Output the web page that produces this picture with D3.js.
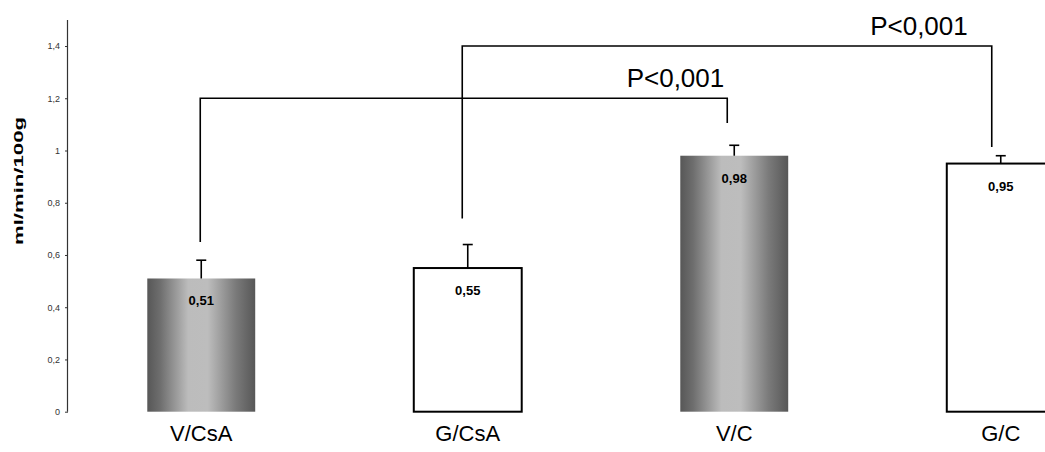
<!DOCTYPE html>
<html>
<head>
<meta charset="utf-8">
<script src="https://cdn.jsdelivr.net/npm/d3@7"></script>
<style>
  html, body { margin: 0; padding: 0; background: #fff; }
  svg { display: block; font-family: "Liberation Sans", Arial, sans-serif; }
</style>
</head>
<body>
<svg id="chart" width="1045" height="452"></svg>
<script>
// Blood flow per group (ml/min/100g)
const categories = ["V/CsA", "G/CsA", "V/C", "G/C"];
const means      = [0.51, 0.55, 0.98, 0.95];
const errorTops  = [0.58, 0.64, 1.02, 0.98];
const barStyle   = ["gradient", "outline", "gradient", "outline"];
const valueLabels = ["0,51", "0,55", "0,98", "0,95"];
const yTicks      = [0, 0.2, 0.4, 0.6, 0.8, 1, 1.2, 1.4];
const yTickLabels = ["0", "0,2", "0,4", "0,6", "0,8", "1", "1,2", "1,4"];

// Significance brackets: which groups, level, and where each leg stops
const bracketPairs  = [["V/CsA", "V/C"], ["G/CsA", "G/C"]];
const bracketLevels = [1.2, 1.4];
const bracketLegEnds = [[0.65, 1.105], [0.74, 1.013]];
const bracketLabels = ["P<0,001", "P<0,001"];

const svg = d3.select("#chart");

const plotLeft = 68, bandStep = 266.5;
const x = d3.scaleBand()
  .domain(categories)
  .range([plotLeft, plotLeft + bandStep * categories.length])
  .padding(0);
const barW = bandStep * 0.405;

const y = d3.scaleLinear().domain([0, 1.5]).range([411.7, 19.9]);

// Cylinder-like shading for the V groups
const defs = svg.append("defs");
const grad = defs.append("linearGradient")
  .attr("id", "barShade").attr("x1", "0%").attr("x2", "100%").attr("y1", "0%").attr("y2", "0%");
[[0, "#575757"], [0.12, "#6e6e6e"], [0.38, "#bcbcbc"], [0.56, "#bdbdbd"], [0.82, "#7a7a7a"], [1, "#575757"]]
  .forEach(([o, c]) => grad.append("stop").attr("offset", o).attr("stop-color", c));

// Y axis
const yAxis = d3.axisLeft(y)
  .tickValues(yTicks)
  .tickFormat((d, i) => yTickLabels[i])
  .tickSize(3)
  .tickPadding(5);
const ga = svg.append("g").attr("transform", `translate(${plotLeft},0)`).call(yAxis);
ga.select(".domain").attr("d", `M-0.5,${y(0)}V${y(1.5)}`).attr("stroke", "#333").attr("stroke-width", 1.2);
ga.selectAll(".tick line").attr("stroke", "#333");
ga.selectAll(".tick text").attr("font-size", 9).attr("fill", "#333")
  .attr("font-family", "'Liberation Sans', Arial, sans-serif");

// Axis title, stretched along the axis
svg.append("text")
  .attr("transform", `translate(23,181) rotate(-90)`)
  .attr("text-anchor", "middle")
  .attr("font-size", 13).attr("font-weight", "bold")
  .attr("textLength", 128).attr("lengthAdjust", "spacingAndGlyphs")
  .text("ml/min/100g");

const cx = c => x(c) + x.bandwidth() / 2;

// Bars
const bars = svg.append("g");
categories.forEach((c, i) => {
  const r = bars.append("rect")
    .attr("x", cx(c) - barW / 2)
    .attr("y", y(means[i]))
    .attr("width", barW)
    .attr("height", y(0) - y(means[i]));
  if (barStyle[i] === "gradient") {
    r.attr("fill", "url(#barShade)");
  } else {
    r.attr("fill", "#fff").attr("stroke", "#000").attr("stroke-width", 2);
  }
});

// Error bars (upper only)
const err = svg.append("g").attr("stroke", "#000").attr("stroke-width", 1.6);
categories.forEach((c, i) => {
  err.append("line").attr("x1", cx(c)).attr("x2", cx(c))
    .attr("y1", y(means[i])).attr("y2", y(errorTops[i]));
  err.append("line").attr("x1", cx(c) - 5).attr("x2", cx(c) + 5)
    .attr("y1", y(errorTops[i])).attr("y2", y(errorTops[i]));
});

// Value labels inside bars
categories.forEach((c, i) => {
  svg.append("text")
    .attr("x", cx(c)).attr("y", y(means[i]) + 27)
    .attr("text-anchor", "middle")
    .attr("font-size", 13).attr("font-weight", "bold")
    .text(valueLabels[i]);
});

// Category labels
categories.forEach(c => {
  svg.append("text")
    .attr("x", cx(c)).attr("y", 441)
    .attr("text-anchor", "middle")
    .attr("font-size", 22)
    .text(c);
});

// Significance brackets
const legShift = [[-1, -7], [-5.5, -9]];
const labelGap = [3, 24];
const br = svg.append("g").attr("fill", "none").attr("stroke", "#000").attr("stroke-width", 1.6);
bracketPairs.forEach(([a, b], i) => {
  const xa = cx(a) + legShift[i][0], xb = cx(b) + legShift[i][1];
  const yl = y(bracketLevels[i]);
  br.append("path")
    .attr("d", `M${xa},${y(bracketLegEnds[i][0])}V${yl}H${xb}V${y(bracketLegEnds[i][1])}`);
  svg.append("text")
    .attr("x", xb - labelGap[i]).attr("y", yl - 11)
    .attr("text-anchor", "end")
    .attr("font-size", 26)
    .text(bracketLabels[i]);
});
</script>
</body>
</html>
